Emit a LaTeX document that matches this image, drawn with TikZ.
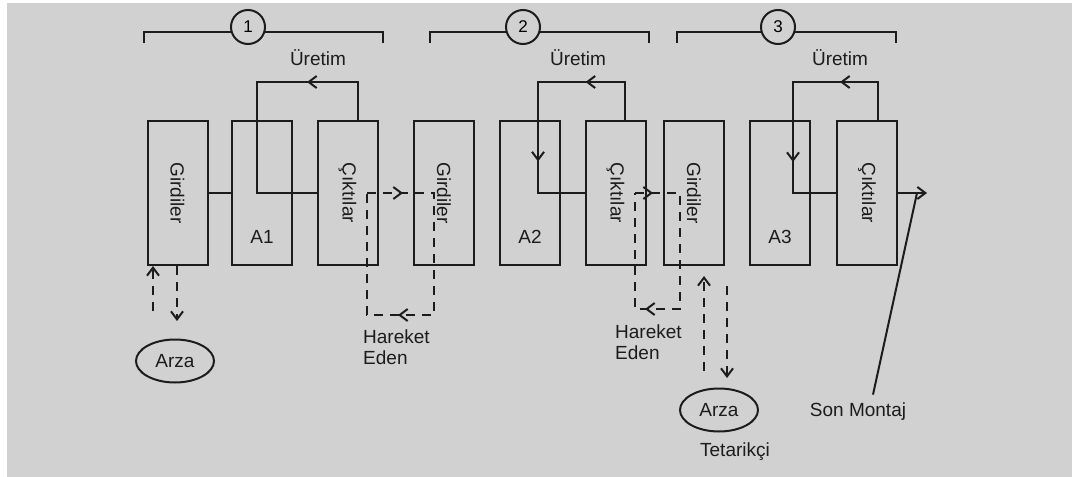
\documentclass[tikz,border=0pt]{standalone}
\usepackage{fontspec}
\setmainfont{Liberation Sans}
\usepackage{xcolor}
\usepackage{tikz}
\usetikzlibrary{shapes.geometric, arrows.meta, decorations.markings}
\definecolor{panelgray}{HTML}{D1D1D1}
\definecolor{inkblack}{HTML}{1C1C1C}

\tikzset{
  boxtext/.style={font=\fontsize{19}{21}\selectfont, text=inkblack},
  stagebox/.style={draw=inkblack, line width=2pt, minimum width=60pt, minimum height=144pt, inner sep=0pt},
  flow/.style={draw=inkblack, line width=2pt},
  movedash/.style={flow, dash pattern=on 9pt off 7pt},
  midtip/.style={postaction={decorate, decoration={markings, mark=at position #1 with {\arrow{>}}}}},
  arzabox/.style={ellipse, draw=inkblack, line width=2pt, minimum width=78pt, minimum height=43pt, inner sep=0pt, boxtext},
  stepnum/.style={circle, draw=inkblack, line width=2pt, fill=panelgray, minimum size=34pt, inner sep=0pt, font=\fontsize{17}{19}\selectfont}
}

\begin{document}
\begin{tikzpicture}[x=1pt, y=-1pt, >={Straight Barb[length=8pt,width=12pt,line width=2pt]}]
\fill[white] (0,0) rectangle (1072,477);
\fill[panelgray] (7,3) rectangle (1072,477);
\useasboundingbox (0,0) rectangle (1072,477);

\draw[flow] (144,43) |- (383,32) -- (383,43);
\draw[flow] (430,43) |- (649,32) -- (649,43);
\draw[flow] (677,43) |- (896,32) -- (896,43);
\node[stepnum] (n1) at (248,27) {1};
\node[stepnum] (n2) at (523,27) {2};
\node[stepnum] (n3) at (778,27) {3};

\node[boxtext] (u1) at (318,58) {Üretim};
\node[boxtext] (u2) at (578,58) {Üretim};
\node[boxtext] (u3) at (840,58) {Üretim};

\node[stagebox, label={[boxtext, rotate=-90]center:Girdiler}] (g1) at (177.5,193) {};
\node[stagebox] (a1) at (262,193) {};
\node[stagebox, label={[boxtext, rotate=-90]center:Çıktılar}] (c1) at (347.5,193) {};
\node[stagebox, label={[boxtext, rotate=-90]center:Girdiler}] (g2) at (444,193) {};
\node[stagebox] (a2) at (530,193) {};
\node[stagebox, label={[boxtext, rotate=-90]center:Çıktılar}] (c2) at (615.5,193) {};
\node[stagebox, label={[boxtext, rotate=-90]center:Girdiler}] (g3) at (694,193) {};
\node[stagebox] (a3) at (780,193) {};
\node[stagebox, label={[boxtext, rotate=-90]center:Çıktılar}] (c3) at (867,193) {};

\node[boxtext] (a1t) at ([yshift=-44pt]a1.center) {A1};
\node[boxtext] (a2t) at ([yshift=-44pt]a2.center) {A2};
\node[boxtext] (a3t) at ([yshift=-44pt]a3.center) {A3};

\draw[flow] (g1.east) -- (a1.west);
\draw[flow, midtip=89pt] ([xshift=10.5pt]c1.north) -- ++(0,-38) -| ([xshift=-5pt]a1.center) -- (c1.west);
\draw[flow, midtip=77pt, midtip=204pt] ([xshift=9pt]c2.north) -- ++(0,-38) -| ([xshift=8pt]a2.center) -- (c2.west);
\draw[flow, midtip=76pt, midtip=203pt] ([xshift=11pt]c3.north) -- ++(0,-38) -| ([xshift=13pt]a3.center) -- (c3.west);

\draw[movedash, midtip=36pt, midtip=225pt] ([xshift=19.5pt]c1.center) -- ([xshift=-10pt]g2.center) -- ++(0,122) -| ([xshift=19.5pt]c1.center);
\draw[movedash, midtip=18pt, midtip=196pt] ([xshift=19.5pt]c2.center) -- ([xshift=-14pt]g3.center) -- ++(0,116) -| ([xshift=19.5pt]c2.center);
\node[boxtext, align=left, anchor=west, inner sep=0pt] (he1) at (363,347) {Hareket\\Eden};
\node[boxtext, align=left, anchor=west, inner sep=0pt] (he2) at (615,342) {Hareket\\Eden};

\node[arzabox] (arza1) at (175,361) {Arza};
\draw[movedash, ->] ([xshift=-24.5pt, yshift=-45pt]g1.south) -- ([xshift=-24.5pt]g1.south);
\draw[movedash, ->] ([xshift=-0.5pt]g1.south) -- ([xshift=-0.5pt, yshift=-55pt]g1.south);

\node[arzabox] (arza2) at (719,410) {Arza};
\node[boxtext] (tet) at (735,452) {Tetarikçi};
\draw[movedash, ->] ([xshift=10pt, yshift=-105pt]g3.south) -- ([xshift=10pt, yshift=-10pt]g3.south);
\draw[movedash, ->] ([xshift=33pt, yshift=-20pt]g3.south) -- ([xshift=33pt, yshift=-112pt]g3.south);

\coordinate (out3) at (927,193);
\draw[flow, ->] (c3.east) -- (out3);
\node[boxtext] (sonm) at (858,412) {Son Montaj};
\draw[flow] ([xshift=15pt, yshift=5pt]sonm.north) -- ([xshift=-10pt]out3);
\end{tikzpicture}
\end{document}
